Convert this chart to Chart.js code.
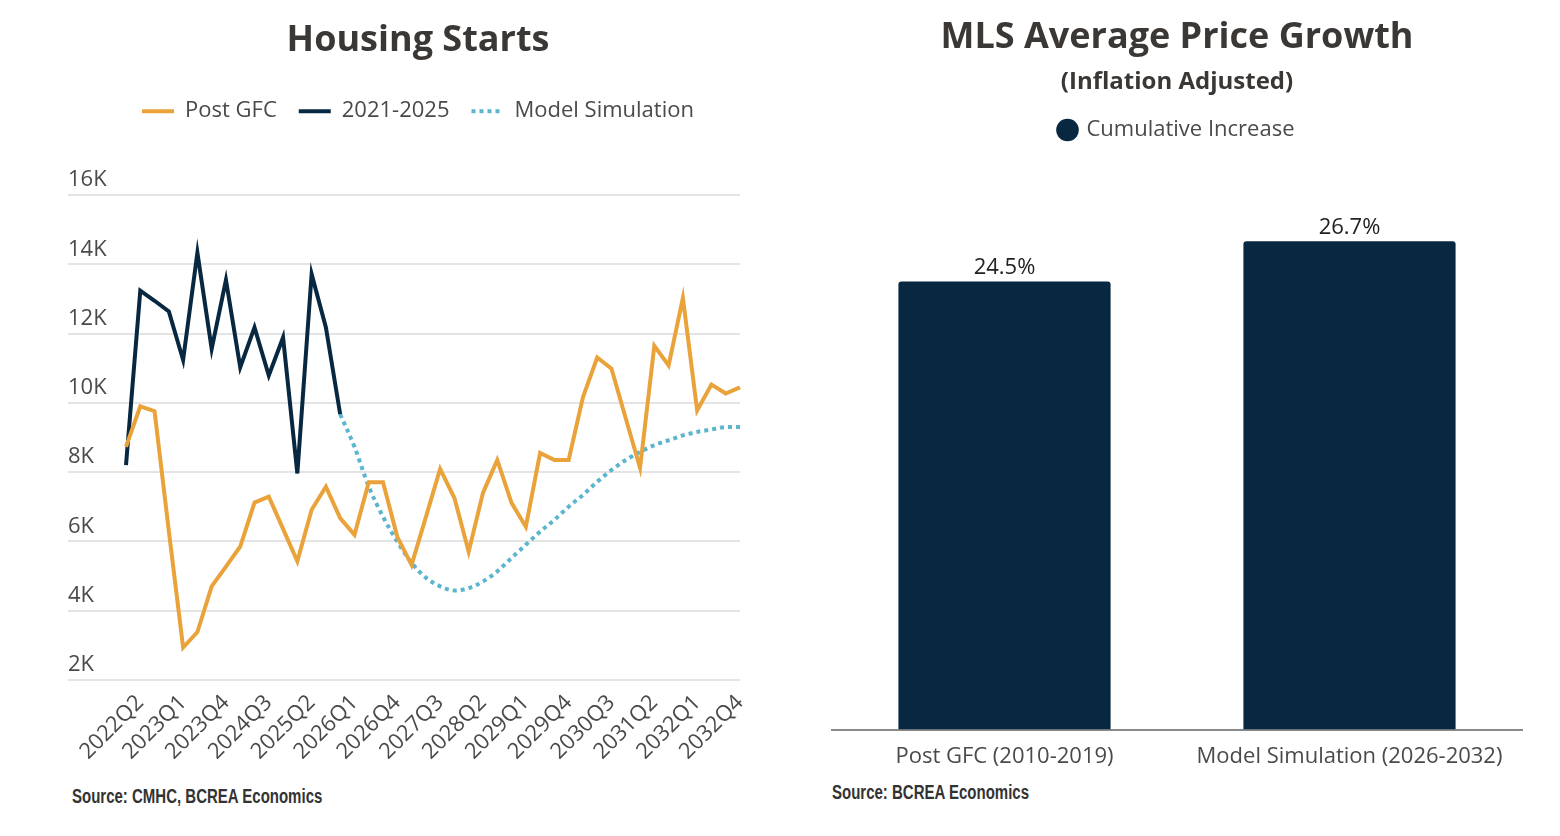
<!DOCTYPE html>
<html>
<head>
<meta charset="utf-8">
<script src="https://cdn.jsdelivr.net/npm/chart.js"></script>
<style>
  body { margin: 0; background: #fff; width: 1560px; height: 836px; overflow: hidden; position: relative; font-family: "Open Sans", sans-serif; }
  .box { position: absolute; top: 0; height: 780px; }
  #left { left: 38px; width: 760px; }
  #right { left: 800px; width: 756px; }
  .src { position: absolute; font-family: "Liberation Sans", Arial, sans-serif; font-weight: bold; font-size: 20px; color: #333;
         transform: scaleX(0.75); transform-origin: left center; white-space: nowrap; }
</style>
</head>
<body>
  <div class="box" id="left"><canvas id="starts"></canvas></div>
  <div class="box" id="right"><canvas id="growth"></canvas></div>
  <div class="src" style="left:72px; top:785px;">Source: CMHC, BCREA Economics</div>
  <div class="src" style="left:832px; top:781px;">Source: BCREA Economics</div>

  <script>
    // quarters 2022Q1 .. 2032Q4
    const quarters = [];
    for (let y = 2022; y <= 2032; y++)
      for (let q = 1; q <= 4; q++) quarters.push(`${y}Q${q}`);

    const postGFC = [8730, 9900, 9760, 6300, 2930, 3380, 4700, 5270, 5850, 7120, 7290, 6360, 5420, 6910, 7580,
      6670, 6190, 7710, 7710, 6130, 5320, 6700, 8090, 7250, 5700, 7400, 8350, 7110, 6420, 8550, 8350, 8350,
      10160, 11310, 10990, 9550, 8120, 11650, 11080, 13030, 9780, 10530, 10270, 10450];

    const recent = [8200, 13240, 12950, 12640, 11240, 14340, 11560, 13550, 11030, 12180, 10790, 11890, 7960, 13720, 12180, 9670];

    const model = [null, null, null, null, null, null, null, null, null, null, null, null, null, null, null,
      9670, 8730, 7580, 6710, 5990, 5380, 4950, 4700, 4580, 4650, 4840, 5130, 5520, 5900, 6280, 6620, 7000,
      7340, 7720, 8060, 8350, 8580, 8780, 8920, 9060, 9160, 9230, 9300, 9300];

    const barLabels = ['Post GFC (2010-2019)', 'Model Simulation (2026-2032)'];
    const cumulative = [24.5, 26.7];

    const ORANGE = '#E9A33A', NAVY = '#072840', BLUE = '#5BB5CF';
    const TITLE = '#3a3735', TEXT = '#4a4a4a';
    Chart.defaults.font.family = '"Open Sans", sans-serif';
    Chart.defaults.animation = false;

    // extra room under the legend
    const legendGap = gap => ({
      id: 'legendGap',
      beforeInit(chart) {
        const fit = chart.legend.fit;
        chart.legend.fit = function () {
          fit.bind(chart.legend)();
          this.height += gap;
        };
      },
    });
  </script>

  <script>
    new Chart(document.getElementById('starts'), {
      type: 'line',
      data: {
        labels: quarters,
        datasets: [
          { label: 'Post GFC', data: postGFC, borderColor: ORANGE, backgroundColor: ORANGE, borderWidth: 4, pointRadius: 0, tension: 0 },
          { label: '2021-2025', data: recent, borderColor: NAVY, backgroundColor: NAVY, borderWidth: 4, pointRadius: 0, tension: 0 },
          { label: 'Model Simulation', data: model, borderColor: BLUE, backgroundColor: BLUE, borderWidth: 4, borderDash: [4, 4], pointRadius: 0, cubicInterpolationMode: 'monotone' },
        ],
      },
      plugins: [legendGap(63)],
      options: {
        responsive: true,
        maintainAspectRatio: false,
        layout: { padding: { left: 30, right: 30, top: 13, bottom: 13 } },
        plugins: {
          title: {
            display: true, text: 'Housing Starts', color: TITLE,
            font: { size: 36, weight: 'bold' }, padding: { top: 6, bottom: 16 },
          },
          legend: {
            labels: {
              color: TEXT, font: { size: 22 }, usePointStyle: true, pointStyle: 'line',
              pointStyleWidth: 32, boxWidth: 32, padding: 22,
              generateLabels: chart => {
                const items = Chart.defaults.plugins.legend.labels.generateLabels(chart);
                items.forEach(it => {
                  it.lineDash = chart.data.datasets[it.datasetIndex].borderDash || [];
                  it.lineWidth = 4;
                });
                return items;
              },
            },
          },
          tooltip: { enabled: false },
        },
        scales: {
          x: {
            grid: { display: false },
            border: { display: false },
            ticks: {
              color: TEXT, font: { size: 22 }, autoSkip: false, maxRotation: 45, minRotation: 45, padding: 2,
              callback: (v, i) => i % 3 === 1 ? quarters[i] : '',
            },
          },
          y: {
            min: 2000, max: 16000,
            afterFit: s => { s.width = 58; },
            grid: { color: '#e4e4e4', lineWidth: 2, tickLength: 58 },
            border: { display: false },
            ticks: {
              stepSize: 2000, color: TEXT, font: { size: 22 }, crossAlign: 'far', labelOffset: -15, padding: 0,
              callback: v => v / 1000 + 'K',
            },
          },
          spare: {
            type: 'linear', position: 'right',
            afterFit: s => { s.width = 28; },
            grid: { display: false }, border: { display: false }, ticks: { display: false },
          },
        },
      },
    });
  </script>

  <script>
    const barValueLabels = {
      id: 'barValueLabels',
      afterDatasetsDraw(chart) {
        const { ctx } = chart;
        const meta = chart.getDatasetMeta(0);
        ctx.save();
        ctx.font = '22px "Open Sans", sans-serif';
        ctx.fillStyle = '#222';
        ctx.textAlign = 'center';
        ctx.textBaseline = 'bottom';
        meta.data.forEach((bar, i) => {
          ctx.fillText(cumulative[i].toFixed(1) + '%', bar.x, bar.y - 3);
        });
        ctx.restore();
      },
    };

    new Chart(document.getElementById('growth'), {
      type: 'bar',
      data: {
        labels: barLabels,
        datasets: [
          { label: 'Cumulative Increase', data: cumulative, backgroundColor: NAVY, borderRadius: 3, borderSkipped: 'bottom', categoryPercentage: 1, barPercentage: 0.615 },
        ],
      },
      plugins: [barValueLabels, legendGap(30)],
      options: {
        responsive: true,
        maintainAspectRatio: false,
        layout: { padding: { left: 32, right: 34, top: 8, bottom: 4 } },
        plugins: {
          title: {
            display: true, text: 'MLS Average Price Growth', color: TITLE,
            font: { size: 36, weight: 'bold' }, padding: { top: 8, bottom: 4 },
          },
          subtitle: {
            display: true, text: '(Inflation Adjusted)', color: TITLE,
            font: { size: 24, weight: 'bold' }, padding: { top: 5, bottom: 2 },
          },
          legend: {
            labels: {
              color: TEXT, font: { size: 22 }, usePointStyle: true, pointStyle: 'circle',
              boxWidth: 16, boxHeight: 16, padding: 20,
            },
          },
          tooltip: { enabled: false },
        },
        scales: {
          x: {
            grid: { display: false },
            border: { display: true, color: '#8a8a8a', width: 2 },
            ticks: { color: TEXT, font: { size: 22 }, padding: 6 },
          },
          y: {
            display: false, min: 0, max: 30,
          },
        },
      },
    });
  </script>
</body>
</html>
